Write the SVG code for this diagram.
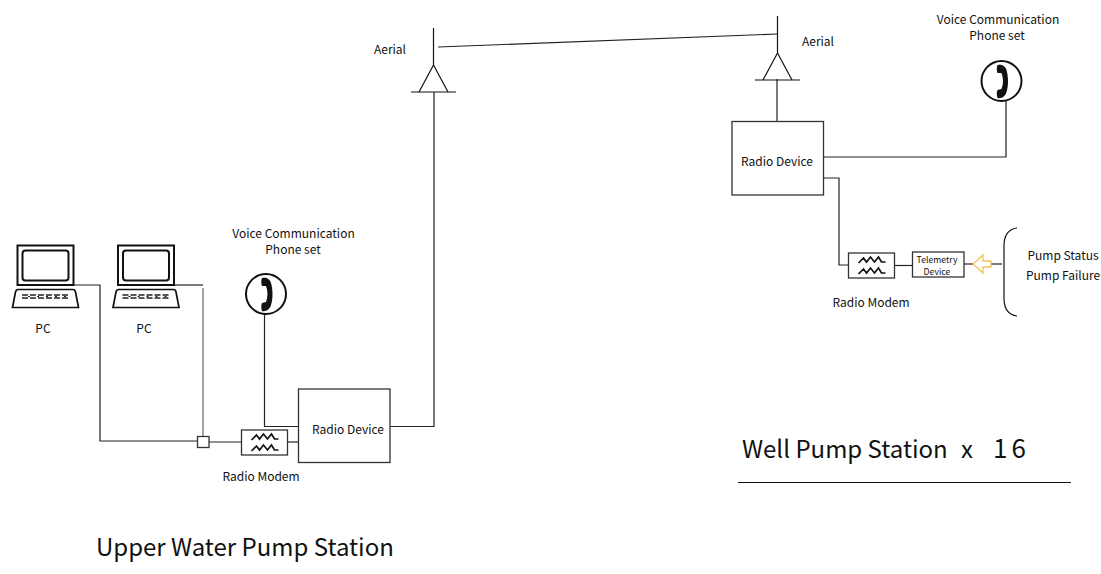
<svg xmlns="http://www.w3.org/2000/svg" width="1101" height="574" viewBox="0 0 1101 574">
<style>
text{font-family:"Noto Sans CJK JP","Liberation Sans",sans-serif;fill:#111;font-size:12px}
.m{text-anchor:middle}
.b{font-size:24px}
.t{font-size:8.7px}
.l{fill:none;stroke:#222;stroke-width:1.2}
.box{fill:#fff;stroke:#333;stroke-width:1.3}
.w{fill:none;stroke:#111;stroke-width:1.7}
.g{fill:none;stroke:#111;stroke-width:1.2}
</style>
<defs>
<g id="laptop">
<rect x="17.500" y="245.500" width="56" height="39.500" fill="#fff" stroke="#111" stroke-width="2"/>
<rect x="22.500" y="250.500" width="46" height="30" rx="3" fill="#fff" stroke="#111" stroke-width="2"/>
<path d="M18 289.500H73C74 289.500 75 290 75.500 292L78.500 307.500H12.500L15.500 292C16 290 17 289.500 18 289.500Z" fill="#fff" stroke="#111" stroke-width="1.700"/>
<path d="M22 295H69M22 298H69" stroke="#222" stroke-width="1.400" stroke-dasharray="6 2"/>
<path d="M22 296.500H69" stroke="#222" stroke-width="1.200" stroke-dasharray="2 7" stroke-dashoffset="-6"/>
</g>
<g id="phone">
<circle cx="0" cy="0" r="20" fill="#fff" stroke="#111" stroke-width="2"/>
<path d="M-4-16C0-17 4-15 5-11C7-4 7 5 5 11C4 15 0 18-4 17C-5 14-5 11-4 9L0 8C2 3 2-3 0-8L-4-8C-5-11-5-13-4-16Z" fill="#111"/>
</g>
<g id="modem">
<rect x="0" y="0" width="46" height="25" class="box"/>
<path d="M10 10L15 5L18 9L22 4L26 9L30 4L33 9L37 9M10 21L15 16L18 20L22 15L26 20L30 15L33 20L37 20" class="w"/>
</g>
<g id="antenna">
<path d="M0 0V37M-14.500 64L0 37L14.500 64" class="g"/>
<path d="M-22.500 64H22.500" class="g"/>
</g>
</defs>
<g id="connectors">
<path class="l" d="M73 285H100V441H197"/>
<path class="l" d="M173 285H203"/>
<path class="l" style="stroke:#666" d="M203 288V437"/>
<path class="l" d="M209 442H242"/>
<path class="l" d="M287 442H298"/>
<path class="l" d="M264.500 314V426.500H298"/>
<path class="l" d="M390 426.500H434V92"/>
<path class="l" d="M438 47L777 34"/>
<path class="l" d="M777 79V121"/>
<path class="l" d="M823 157H1006V101"/>
<path class="l" d="M823 178H839V265H848"/>
<path class="l" d="M895 265.500H912"/>
<path class="l" d="M964 264H973"/>
<path class="l" d="M990 264H1002"/>
</g>
<g id="pc1"><use href="#laptop"/><text x="43" y="333" class="m">PC</text></g>
<g id="pc2"><use href="#laptop" x="100.500"/><text x="144" y="333" class="m">PC</text></g>
<g id="phone-upper"><use href="#phone" x="266" y="294"/><text x="293.500" y="238" class="m">Voice Communication</text><text x="293" y="254" class="m">Phone set</text></g>
<g id="junction"><rect x="197.500" y="436.500" width="11.500" height="11" class="box"/></g>
<g id="modem-upper"><use href="#modem" x="241.500" y="430"/><text x="261" y="481" class="m">Radio Modem</text></g>
<g id="radio-upper"><rect x="298.500" y="389" width="91.500" height="73.500" class="box"/><text x="348" y="434" class="m">Radio Device</text></g>
<g id="aerial-upper"><use href="#antenna" x="433.500" y="28"/><text x="390" y="54" class="m">Aerial</text></g>
<g id="aerial-well"><use href="#antenna" x="777.500" y="16"/><text x="818" y="46" class="m">Aerial</text></g>
<g id="radio-well"><rect x="732" y="121.500" width="91.500" height="73.500" class="box"/><text x="777" y="166" class="m">Radio Device</text></g>
<g id="phone-well"><use href="#phone" x="1001.500" y="81"/><text x="998" y="24" class="m">Voice Communication</text><text x="997" y="40" class="m">Phone set</text></g>
<g id="modem-well"><use href="#modem" x="848.500" y="253"/><text x="871" y="307" class="m">Radio Modem</text></g>
<g id="telemetry"><rect x="912.500" y="252" width="51.500" height="25" class="box"/><text x="937" y="262.500" class="m t">Telemetry</text><text x="937" y="275" class="m t">Device</text></g>
<g id="signal-arrow"><path d="M973 264L983 255V261H991V267H983V273Z" fill="#fff" stroke="#f5c15c" stroke-width="1.300"/></g>
<g id="signals"><path d="M1017 228C1009 229 1004 234 1004 246V298C1004 309 1009 315 1017 316" class="g"/><text x="1063" y="260" class="m">Pump Status</text><text x="1063" y="280" class="m">Pump Failure</text></g>
<g id="well-title"><text y="458" class="b"><tspan x="742">Well Pump Station</tspan><tspan x="961">x</tspan><tspan x="993" letter-spacing="4" font-size="26" style="font-size:26px">16</tspan></text><path d="M738 482.500H1071" class="g" style="stroke-width:1"/></g>
<g id="upper-title"><text x="96" y="556" class="b">Upper Water Pump Station</text></g>
</svg>
